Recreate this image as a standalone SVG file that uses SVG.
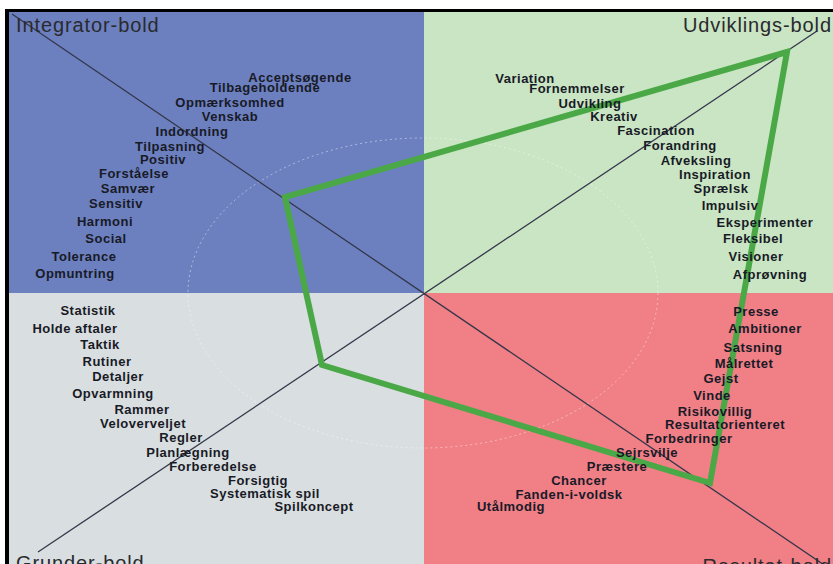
<svg xmlns="http://www.w3.org/2000/svg" width="833" height="564" viewBox="0 0 833 564">
<style>
.w{font-family:"Liberation Sans",Arial,sans-serif;font-weight:bold;font-size:13px;letter-spacing:0.5px;fill:#181a26;text-anchor:middle}
.c{font-family:"Liberation Sans",Arial,sans-serif;font-size:20px;letter-spacing:0.9px;fill:#2a2a2e}
.ax{stroke:#34364a;stroke-width:1.3;fill:none}
</style>
<rect x="0" y="0" width="833" height="564" fill="#ffffff"/>
<g id="quadrants">
<rect id="q-integrator" x="9" y="12" width="415" height="281" fill="#6c80c0"/>
<rect id="q-udvikling" x="424" y="12" width="409" height="281" fill="#c9e5c3"/>
<rect id="q-grunder" x="9" y="293" width="415" height="271" fill="#d9dee0"/>
<rect id="q-resultat" x="424" y="293" width="409" height="271" fill="#f07f86"/>
</g>
<rect x="5" y="9" width="828" height="3" fill="#000"/>
<rect x="5" y="9" width="4" height="555" fill="#000"/>
<ellipse cx="423" cy="293" rx="235" ry="155" fill="none" stroke="#ffffff" stroke-opacity="0.45" stroke-width="1" stroke-dasharray="2 3"/>
<g id="axes">
<line class="ax" x1="12" y1="14" x2="833" y2="571"/>
<line class="ax" x1="38" y1="552" x2="817" y2="31"/>
</g>
<g id="profile">
<polygon points="787,52 285,197 322,365 710,483" fill="none" stroke="#4aa847" stroke-width="6" stroke-linejoin="miter"/>
</g>
<g id="integrator">
<text class="c" x="16" y="32">Integrator-bold</text>
<text class="w" x="300" y="82">Acceptsøgende</text>
<text class="w" x="265" y="92">Tilbageholdende</text>
<text class="w" x="230" y="107">Opmærksomhed</text>
<text class="w" x="230" y="121">Venskab</text>
<text class="w" x="192" y="136">Indordning</text>
<text class="w" x="170" y="151">Tilpasning</text>
<text class="w" x="163" y="164">Positiv</text>
<text class="w" x="134" y="178">Forståelse</text>
<text class="w" x="128" y="193">Samvær</text>
<text class="w" x="116" y="208">Sensitiv</text>
<text class="w" x="105" y="226">Harmoni</text>
<text class="w" x="106" y="243">Social</text>
<text class="w" x="84" y="261">Tolerance</text>
<text class="w" x="75" y="278">Opmuntring</text>
</g>
<g id="udvikling">
<text class="c" x="832" y="32" text-anchor="end">Udviklings-bold</text>
<text class="w" x="525" y="83">Variation</text>
<text class="w" x="577" y="93">Fornemmelser</text>
<text class="w" x="590" y="108">Udvikling</text>
<text class="w" x="614" y="121">Kreativ</text>
<text class="w" x="656" y="135">Fascination</text>
<text class="w" x="680" y="150">Forandring</text>
<text class="w" x="696" y="165">Afveksling</text>
<text class="w" x="715" y="179">Inspiration</text>
<text class="w" x="721" y="193">Sprælsk</text>
<text class="w" x="730" y="210">Impulsiv</text>
<text class="w" x="765" y="227">Eksperimenter</text>
<text class="w" x="753" y="243">Fleksibel</text>
<text class="w" x="756" y="261">Visioner</text>
<text class="w" x="770" y="279">Afprøvning</text>
</g>
<g id="grunder">
<text class="c" x="16" y="570">Grunder-bold</text>
<text class="w" x="88" y="315">Statistik</text>
<text class="w" x="75" y="333">Holde aftaler</text>
<text class="w" x="100" y="349">Taktik</text>
<text class="w" x="107" y="366">Rutiner</text>
<text class="w" x="118" y="381">Detaljer</text>
<text class="w" x="113" y="398">Opvarmning</text>
<text class="w" x="142" y="414">Rammer</text>
<text class="w" x="143" y="428">Veloverveljet</text>
<text class="w" x="181" y="442">Regler</text>
<text class="w" x="188" y="457">Planlægning</text>
<text class="w" x="213" y="471">Forberedelse</text>
<text class="w" x="258" y="485">Forsigtig</text>
<text class="w" x="265" y="498">Systematisk spil</text>
<text class="w" x="314" y="511">Spilkoncept</text>
</g>
<g id="resultat">
<text class="c" x="832" y="573" text-anchor="end">Resultat-bold</text>
<text class="w" x="756" y="316">Presse</text>
<text class="w" x="765" y="333">Ambitioner</text>
<text class="w" x="753" y="352">Satsning</text>
<text class="w" x="744" y="368">Målrettet</text>
<text class="w" x="721" y="383">Gejst</text>
<text class="w" x="712" y="400">Vinde</text>
<text class="w" x="715" y="416">Risikovillig</text>
<text class="w" x="725" y="429">Resultatorienteret</text>
<text class="w" x="689" y="443">Forbedringer</text>
<text class="w" x="647" y="457">Sejrsvilje</text>
<text class="w" x="617" y="471">Præstere</text>
<text class="w" x="579" y="485">Chancer</text>
<text class="w" x="569" y="499">Fanden-i-voldsk</text>
<text class="w" x="511" y="511">Utålmodig</text>
</g>
</svg>
